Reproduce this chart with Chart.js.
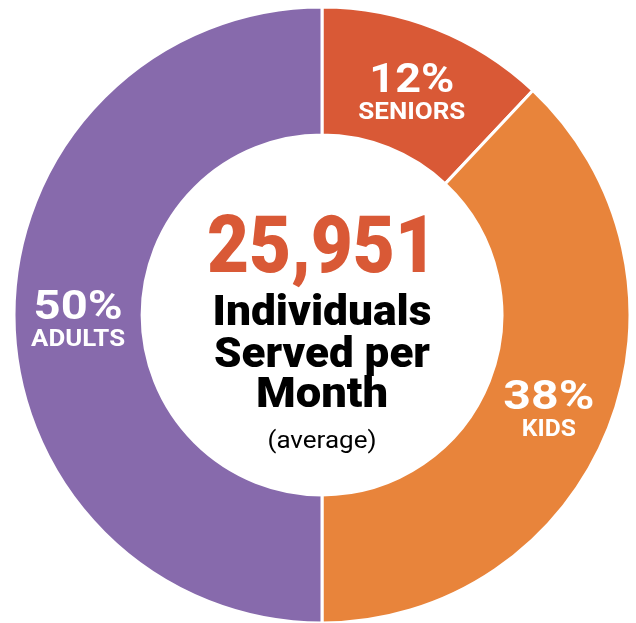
<!DOCTYPE html>
<html>
<head>
<meta charset="utf-8">
<script src="https://cdn.jsdelivr.net/npm/chart.js@4"></script>
<style>
  html,body{margin:0;padding:0;background:#fff;}
  #wrap{width:636px;height:623px;position:relative;}
</style>
</head>
<body>
<div id="wrap"><canvas id="donut"></canvas></div>
<script>
const labels = ['SENIORS', 'KIDS', 'ADULTS'];
const shares = [12, 38, 50];
const colors = ['#D95936', '#E8843B', '#876AAC'];
const centerLines = ['Individuals', 'Served per', 'Month'];
const totalServed = '25,951';
const centerNote = '(average)';

// measured text widths from the reference, so Roboto is stretched to fit
const pctWidths = [85, 91, 89];
const labelWidths = [107, 54, 94];

// text drawn in the hole + on each slice
const textPlugin = {
  id: 'donutText',
  afterDraw(chart){
    const ctx = chart.ctx;
    const arcs = chart.getDatasetMeta(0).data;
    const cx = arcs[0].x, cy = arcs[0].y;
    ctx.save();
    ctx.textAlign = 'center';
    ctx.textBaseline = 'alphabetic';

    function fitText(txt, x, y, font, color, width){
      ctx.font = font;
      ctx.fillStyle = color;
      const w = ctx.measureText(txt).width;
      const s = width ? width / w : 1;
      ctx.save();
      ctx.translate(x, y);
      ctx.scale(s, 1);
      ctx.fillText(txt, 0, 0);
      ctx.restore();
    }

    fitText(totalServed, cx, cy - 43, '900 80px Roboto', colors[0], 230);
    fitText(centerLines[0], cx, cy + 10, '900 42px Roboto', '#000', 219);
    fitText(centerLines[1], cx, cy + 52, '900 42px Roboto', '#000', 216);
    fitText(centerLines[2], cx, cy + 92, '900 42px Roboto', '#000', 132);
    fitText(centerNote, cx, cy + 133, '400 24px Roboto', '#000', 109);

    arcs.forEach((arc, i) => {
      const p = arc.tooltipPosition();
      fitText(shares[i] + '%', p.x, p.y + 4, '700 41px Roboto', '#fff', pctWidths[i]);
      fitText(labels[i], p.x, p.y + 31, '700 24px Roboto', '#fff', labelWidths[i]);
    });
    ctx.restore();
  }
};

new Chart(document.getElementById('donut'), {
  type: 'doughnut',
  data: {
    labels: labels,
    datasets: [{
      data: shares,
      backgroundColor: colors,
      borderColor: '#fff',
      borderWidth: 3,
      hoverOffset: 0
    }]
  },
  options: {
    responsive: true,
    maintainAspectRatio: false,
    animation: false,
    radius: 308,
    cutout: 179,
    layout: { padding: { left: 8, top: 7 } },
    plugins: { legend: { display: false }, tooltip: { enabled: false } }
  },
  plugins: [textPlugin]
});
</script>
</body>
</html>
